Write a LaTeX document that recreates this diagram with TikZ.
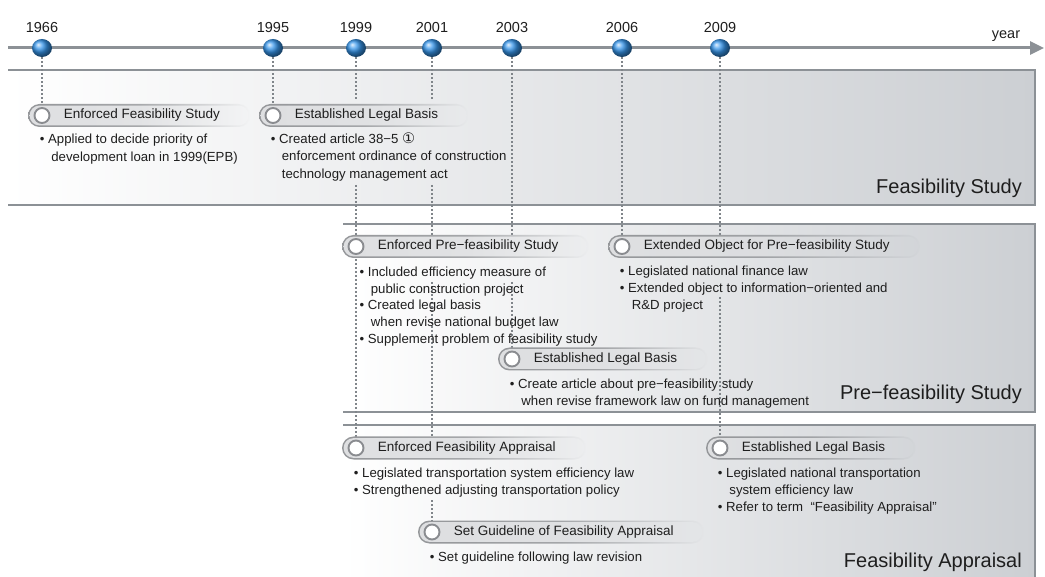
\documentclass[tikz,border=0pt]{standalone}
\usepackage{fontspec}
\setmainfont{Liberation Sans}
\newfontfamily\symfont{DejaVu Sans}
\usetikzlibrary{arrows.meta,calc,shapes.geometric}

\pgfdeclarelayer{panels}
\pgfdeclarelayer{guides}
\pgfdeclarelayer{pills}
\pgfsetlayers{panels,guides,pills,main}

\definecolor{ink}{RGB}{30,30,30}
\definecolor{railgrey}{RGB}{140,145,150}
\definecolor{guidegrey}{RGB}{128,133,138}
\definecolor{panelR}{RGB}{204,207,211}
\definecolor{ballblue}{RGB}{55,150,235}
\definecolor{pilledge}{RGB}{148,150,153}
\definecolor{pillfill}{RGB}{222,223,225}
\definecolor{radioedge}{RGB}{138,140,144}
\colorlet{barL}{pilledge}
\colorlet{barR}{white}

% bar gradient: solid on the left, fading into the panel on the right
% (TikZ maps the path's bounding box onto 25bp..75bp)
\pgfdeclarehorizontalshading[barL,barR]{bargrad}{100bp}{%
  color(0bp)=(barL); color(25bp)=(barL); color(50bp)=(barL!80!barR);
  color(75bp)=(barR); color(100bp)=(barR)}

\newcommand\topstrut{\rule{0pt}{10pt}}
\newcommand\cont[1]{\hspace*{#1pt}}

% rounded label bar behind a radio circle and its caption
\newcommand\pillbar[3]{%
  \begin{scope}
  \colorlet{barL}{pilledge}\colorlet{barR}{#3}%
  \shade[shading=bargrad, rounded corners=11.5pt]
    ($(#1)+(-14,-11.5)$) rectangle ($(#2.east)+(30,11.5)$);
  \colorlet{barL}{pillfill}%
  \shade[shading=bargrad, rounded corners=9.9pt]
    ($(#1)+(-12.4,-9.9)$) rectangle ($(#2.east)+(28.4,9.9)$);
  \end{scope}}

\begin{document}
\begin{tikzpicture}[x=1pt,y=-1pt,
  yearlabel/.style={anchor=base, inner sep=0, text=ink, font=\fontsize{14.5}{16}\selectfont},
  yearball/.style={ellipse, minimum width=20pt, minimum height=18pt, inner sep=0, ball color=ballblue},
  radio/.style={circle, minimum size=15pt, inner sep=0, fill=white, draw=radioedge, line width=1.9pt},
  pilltext/.style={anchor=west, inner sep=0, text=ink, font=\fontsize{13.5}{16}\selectfont, text height=9.5pt, text depth=2.6pt},
  bodytext/.style={anchor=north west, inner sep=0, align=left, text=ink, font=\fontsize{13.2}{16.8}\selectfont},
  paneltitle/.style={anchor=base east, inner sep=0, text=ink, font=\fontsize{20}{24}\selectfont},
  guide/.style={draw=guidegrey, line width=1.8pt, dash pattern=on 1.8pt off 2.2pt},
  rim/.style={draw=railgrey, line width=2.4pt},
]
\useasboundingbox (0,0) rectangle (1045,577);

% ---------- time axis ----------
\coordinate (railstart) at (8,48);
\coordinate (railend) at (1044,48);
\draw[railgrey, line width=3pt, -{Triangle[length=14pt,width=13pt]}] (railstart) -- (railend);
\node[yearlabel] (yr) at (1006,38.5) {year};

\foreach \yr/\xx in {1966/42,1995/273,1999/356,2001/432,2003/512,2006/622,2009/720}{
  \node[yearball] (b\yr) at (\xx,48) {};
  \node[yearlabel] (y\yr) at (\xx,33) {\yr};
}

% ---------- radio circles and captions ----------
\node[radio] (c1) at (42,115.5) {};
\node[pilltext] (p1) at (63.7,115.5) {Enforced Feasibility Study};
\node[radio] (c2) at (273,115.5) {};
\node[pilltext] (p2) at (294.7,115.5) {Established Legal Basis};
\node[radio] (c3) at (356,246.5) {};
\node[pilltext] (p3) at (377.7,246.5) {Enforced Pre−feasibility Study};
\node[radio] (c4) at (622,246.5) {};
\node[pilltext] (p4) at (643.7,246.5) {Extended Object for Pre−feasibility Study};
\node[radio] (c5) at (512,359) {};
\node[pilltext] (p5) at (533.7,359) {Established Legal Basis};
\node[radio] (c6) at (356,448) {};
\node[pilltext] (p6) at (377.7,448) {Enforced Feasibility Appraisal};
\node[radio] (c7) at (720,448) {};
\node[pilltext] (p7) at (741.7,448) {Established Legal Basis};
\node[radio] (c8) at (432,532) {};
\node[pilltext] (p8) at (453.7,532) {Set Guideline of Feasibility Appraisal};

% ---------- bullet texts ----------
\node[bodytext, font=\fontsize{13.2}{18}\selectfont] (n1) at (39.7,133)
  {\topstrut• Applied to decide priority of\\\cont{11.5}development loan in 1999(EPB)};
\node[bodytext, font=\fontsize{13.2}{17.5}\selectfont] (n2) at (270.7,132.5)
  {\topstrut• Created article 38−5 {\symfont\fontsize{14.5}{16}\selectfont ①}\\\cont{11}enforcement ordinance of construction\\\cont{11}technology management act};
\node[bodytext] (n3) at (359.4,266.2)
  {\topstrut• Included efficiency measure of\\\cont{11.3}public construction project\\• Created legal basis\\\cont{11.3}when revise national budget law\\• Supplement problem of feasibility study};
\node[bodytext] (n4) at (619.7,265.5)
  {\topstrut• Legislated national finance law\\• Extended object to information−oriented and\\\cont{12}R\&D project};
\node[bodytext] (n5) at (509.7,378.5)
  {\topstrut• Create article about pre−feasibility study\\\cont{11.5}when revise framework law on fund management};
\node[bodytext] (n6) at (353.7,467.2)
  {\topstrut• Legislated transportation system efficiency law\\• Strengthened adjusting transportation policy};
\node[bodytext] (n7) at (717.7,467.5)
  {\topstrut• Legislated national transportation\\\cont{11.5}system efficiency law\\• Refer to term\ \ “Feasibility Appraisal”};
\node[bodytext] (n8) at (429.7,551.2)
  {\topstrut• Set guideline following law revision};

% ---------- panel titles ----------
\node[paneltitle] (t1) at (1022,194) {Feasibility Study};
\node[paneltitle] (t2) at (1022,400) {Pre−feasibility Study};
\node[paneltitle] (t3) at (1022,567.5) {Feasibility Appraisal};

% ---------- panels ----------
\begin{pgfonlayer}{panels}
  \shade[left color=white, right color=panelR] (8,70) rectangle (1035,205);
  \draw[rim] (8,70) -- (1035,70) -- (1035,205) -- (8,205);
  \shade[left color=white, right color=panelR] (343,224) rectangle (1035,412);
  \draw[rim] (343,224) -- (1035,224) -- (1035,412) -- (343,412);
  \shade[left color=white, right color=panelR] (343,425) rectangle (1035,577);
  \draw[rim] (343,425) -- (1035,425) -- (1035,578);
\end{pgfonlayer}

% ---------- dotted drop lines ----------
\coordinate (g99a) at (356,100);  \coordinate (g99b) at (356,185);
\coordinate (g01a) at (432,100);  \coordinate (g01b) at (432,185);
\coordinate (g01c) at (432,236);  \coordinate (g01d) at (432,282);
\coordinate (g01e) at (432,437);  \coordinate (g01f) at (432,500);
\coordinate (g03a) at (512,236);  \coordinate (g03b) at (512,282);
\coordinate (g09a) at (720,236);  \coordinate (g09b) at (720,297);
\begin{pgfonlayer}{guides}
  \draw[guide] (b1966.south) -- (c1);
  \draw[guide] (b1995.south) -- (c2);
  \draw[guide] (b1999.south) -- (g99a);
  \draw[guide] (g99b) -- (c3);
  \draw[guide] (c3) -- (c6);
  \draw[guide] (b2001.south) -- (g01a);
  \draw[guide] (g01b) -- (g01c);
  \draw[guide] (g01d) -- (g01e);
  \draw[guide] (g01f) -- (c8);
  \draw[guide] (b2003.south) -- (g03a);
  \draw[guide] (g03b) -- (c5);
  \draw[guide] (b2006.south) -- (c4);
  \draw[guide] (b2009.south) -- (g09a);
  \draw[guide] (g09b) -- (c7);
\end{pgfonlayer}

% ---------- caption bars ----------
\begin{pgfonlayer}{pills}
  \pillbar{c1}{p1}{panelR!24!white}
  \pillbar{c2}{p2}{panelR!45!white}
  \pillbar{c3}{p3}{panelR!37!white}
  \pillbar{c4}{p4}{panelR!87!white}
  \pillbar{c5}{p5}{panelR!54!white}
  \pillbar{c6}{p6}{panelR!37!white}
  \pillbar{c7}{p7}{panelR!86!white}
  \pillbar{c8}{p8}{panelR!54!white}
\end{pgfonlayer}
\end{tikzpicture}
\end{document}
